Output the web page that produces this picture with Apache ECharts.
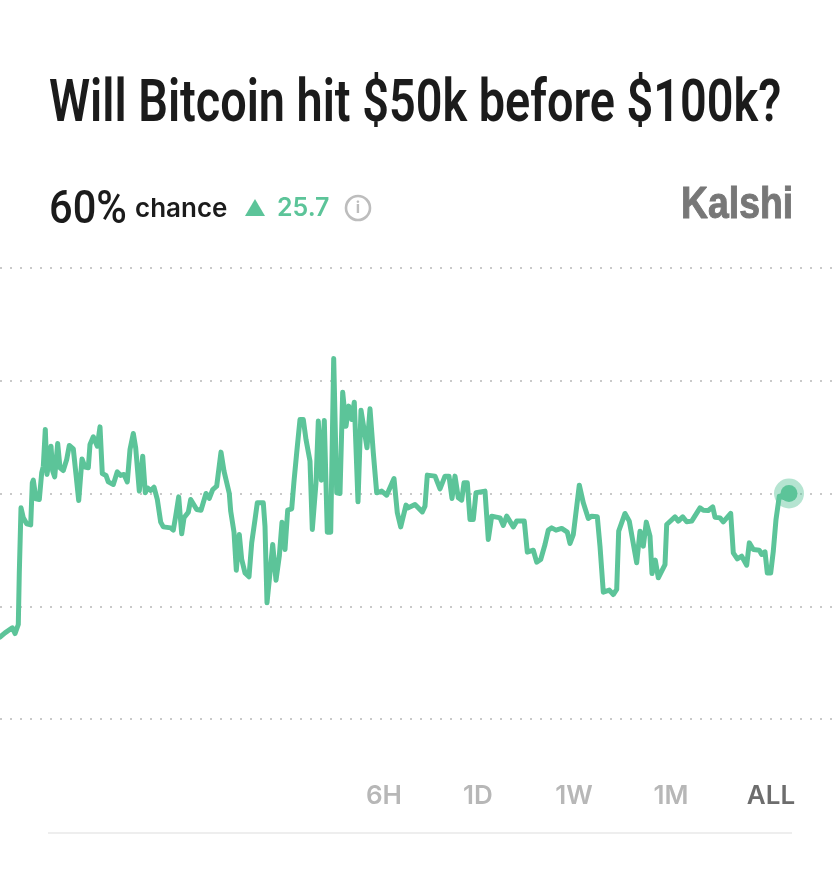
<!DOCTYPE html>
<html>
<head>
<meta charset="utf-8">
<title>Will Bitcoin hit $50k before $100k?</title>
<script src="https://cdn.jsdelivr.net/npm/echarts@6/dist/echarts.min.js"></script>
<style>
  html, body { margin: 0; padding: 0; background: #fff; }
  #container { width: 840px; height: 880px; }
</style>
</head>
<body>
<div id="container"></div>
<script>
const titleText = "Will Bitcoin hit $50k before $100k?";
const chanceText = "60%";
const changeText = "25.7";
const rangeLabels = ["6H", "1D", "1W", "1M", "ALL"];
const rangeCenters = [384, 478, 574, 671, 771];
const yTicks = [40, 50, 60, 70, 80];

// position along the time axis (no dates shown in the picture)
const times = [
  0, 5, 12.3, 15, 18.3, 19.3, 21, 23.3, 26.7, 30.7, 32.3, 33.3, 36, 39.3, 41.7, 43.3, 45.3, 47, 49, 51,
  52.7, 54.7, 57.7, 60, 63.3, 66.7, 69.3, 73.3, 76, 78.7, 82, 85, 88.3, 90, 93.3, 97.3, 100, 102.3, 106, 108.3,
  113.3, 117.3, 120.7, 124, 127.3, 130, 133.3, 135.7, 137.3, 139.3, 141, 142.7, 145.3, 147.3, 150.7, 154, 157.3, 160.7, 163.3, 170.7,
  173.3, 175.7, 178.7, 181.7, 184, 188.3, 190.7, 196.7, 201, 206, 209.3, 212.7, 216.7, 221, 224, 229.3, 230.7, 234, 236.3, 239.3,
  241.7, 245, 249, 251.7, 255, 257.3, 263.3, 265, 267, 270, 272.7, 276, 279.3, 282, 285, 287.7, 291.7, 294, 296.7, 300,
  303.3, 306, 310, 312.3, 316, 318.3, 321.3, 324.3, 327.3, 330.7, 333.7, 336.7, 340, 342.7, 346, 348.7, 351.7, 354.3, 358, 361,
  367, 370, 373.3, 376.7, 381.7, 386.7, 394, 397.3, 400.7, 406, 408.3, 415, 422.3, 425, 427.3, 435, 440, 445, 449, 452,
  455, 458.3, 461.7, 464, 467.3, 470, 473.3, 476, 485, 488.3, 491.7, 500, 503.3, 506.7, 513.3, 516.7, 524.3, 527.3, 533.3, 536.7,
  540.7, 545, 548.3, 551.7, 556, 561.7, 567.3, 570, 573.3, 579.3, 583.3, 588.3, 591.7, 597.3, 600, 603.3, 609.3, 613.3, 616.7, 618.7,
  625, 629.3, 636.7, 640, 643.3, 646.3, 650, 652, 655.3, 658.3, 665, 666.7, 675, 678.3, 682.7, 686.7, 691.7, 700, 703.3, 708.3,
  712.7, 715, 720, 723.3, 730.7, 733.3, 737.3, 741.7, 746.7, 749.3, 753.3, 759.3, 761.7, 765, 767.3, 770.7, 773.3, 776, 779.3, 785, 789
];
const chance = [
  47.26, 47.64, 48.09, 47.58, 48.38, 52.96, 58.73, 57.84, 57.31, 57.22, 60.95, 61.18, 59.53, 59.47, 61.83, 62.42, 65.68, 61.69, 61.69, 64.2,
  61.98, 61.48, 64.43, 62.28, 62.04, 63.02, 64.26, 63.96, 61.69, 59.38, 63.07, 62.34, 62.28, 64.35, 65.03, 64.2, 65.91, 61.77, 61.6, 61.03,
  60.8, 61.92, 61.6, 61.69, 61.03, 63.9, 65.32, 64.05, 63.9, 60.21, 60.12, 63.31, 60.06, 60.5, 60.27, 60.56, 59.47, 57.46, 57.04, 56.95,
  56.75, 57.99, 59.7, 56.42, 57.84, 58.34, 59.47, 58.58, 58.52, 60, 59.56, 60.35, 60.65, 63.67, 61.98, 60, 58.43, 56.57, 53.2, 56.36,
  54.15, 52.96, 52.61, 55.62, 57.69, 59.17, 59.17, 57.1, 50.3, 52.96, 55.48, 52.31, 54.44, 57.46, 55.03, 58.52, 58.64, 61.09, 63.61, 66.56,
  66.56, 64.79, 62.87, 56.81, 60.95, 66.42, 61.18, 66.47, 56.57, 56.57, 71.97, 60.06, 60, 68.99, 65.97, 67.75, 66.56, 68.1, 59.26, 67.39,
  64.05, 67.51, 63.61, 60.06, 60.21, 59.85, 61.33, 58.29, 57.04, 58.97, 58.73, 59.02, 58.37, 58.88, 61.63, 61.54, 60.41, 61.54, 61.54, 59.56,
  61.54, 59.62, 59.41, 60.95, 60.95, 57.69, 57.69, 60.06, 60.21, 55.92, 57.99, 57.84, 57.16, 57.99, 57.04, 57.55, 57.55, 54.8, 54.97, 53.91,
  54.15, 55.48, 56.75, 56.95, 56.75, 56.9, 56.57, 55.57, 56.36, 60.74, 59.17, 57.78, 57.99, 57.93, 55.33, 51.25, 51.43, 51.04, 51.49, 56.66,
  58.23, 57.55, 53.85, 56.66, 55.33, 57.46, 56.22, 52.9, 54.09, 52.52, 53.7, 57.25, 57.93, 57.55, 57.93, 57.49, 57.55, 58.73, 58.52, 58.49,
  58.82, 57.9, 57.84, 57.49, 58.23, 54.74, 54.21, 54.44, 53.64, 55.62, 55.03, 54.97, 54.59, 54.83, 52.96, 52.96, 54.89, 57.69, 59.76, 59.62, 60
];

const GREEN = "#5cc499";
const seriesData = times.map((t, i) => [t, chance[i]]);
const lastPoint = seriesData[seriesData.length - 1];

const myChart = echarts.init(document.getElementById("container"), null, { renderer: "canvas" });

function label(x, y, text, font, fill, extra, scaleX) {
  return {
    type: "text",
    x: x,
    y: y,
    scaleX: scaleX || 1,
    style: Object.assign({ text: text, font: font, fill: fill, textVerticalAlign: "middle" }, extra || {})
  };
}

const graphics = [
  label(49, 106, titleText, '600 60px Roboto, sans-serif', "#1b1b1b", null, 0.78),
  label(49, 211, chanceText, '500 47px Roboto, sans-serif', "#1b1b1b", null, 0.885),
  label(135, 209, "chance", '600 26px Inter, sans-serif', "#1b1b1b"),
  {
    type: "polygon",
    shape: { points: [[255, 199], [265, 216], [245, 216]] },
    style: { fill: GREEN }
  },
  label(277, 208, changeText, '600 25px Inter, sans-serif', GREEN),
  {
    type: "circle",
    shape: { cx: 358, cy: 208, r: 12 },
    style: { fill: "none", stroke: "#bdbdbd", lineWidth: 2.6 }
  },
  label(358, 208, "i", '700 16px Inter, sans-serif', "#bdbdbd", { textAlign: "center" }),
  label(681, 206, "Kalshi", '700 44px "Liberation Sans", sans-serif', "#777777",
    { stroke: "#777777", lineWidth: 1 }, 0.85),
  {
    type: "line",
    shape: { x1: 48, y1: 833, x2: 792, y2: 833 },
    style: { stroke: "#e8e8e8", lineWidth: 1.5 }
  }
];
rangeLabels.forEach((txt, i) => {
  graphics.push(label(rangeCenters[i], 796, txt, '600 26px Inter, sans-serif',
    txt === "ALL" ? "#6d6d6d" : "#b7b7b7", { textAlign: "center" }));
});

const option = {
  animation: false,
  backgroundColor: "#ffffff",
  grid: { left: 0, top: 268, width: 832, height: 451 },
  xAxis: {
    type: "value",
    min: 0,
    max: 832,
    show: false
  },
  yAxis: {
    type: "value",
    min: yTicks[0],
    max: yTicks[yTicks.length - 1],
    interval: 10,
    axisLine: { show: false },
    axisTick: { show: false },
    axisLabel: { show: false },
    splitLine: {
      show: true,
      lineStyle: { color: "#c9c9c9", width: 2, type: [2, 8] }
    }
  },
  series: [
    {
      type: "line",
      data: seriesData,
      showSymbol: false,
      smooth: false,
      lineStyle: { color: GREEN, width: 5, join: "round", cap: "round" },
      z: 3
    },
    {
      type: "scatter",
      data: [lastPoint],
      symbolSize: 30,
      itemStyle: { color: GREEN, opacity: 0.45 },
      silent: true,
      z: 2
    },
    {
      type: "scatter",
      data: [lastPoint],
      symbolSize: 17,
      itemStyle: { color: GREEN, opacity: 1 },
      silent: true,
      z: 4
    }
  ],
  graphic: { elements: graphics }
};
myChart.setOption(option);
</script>
</body>
</html>
